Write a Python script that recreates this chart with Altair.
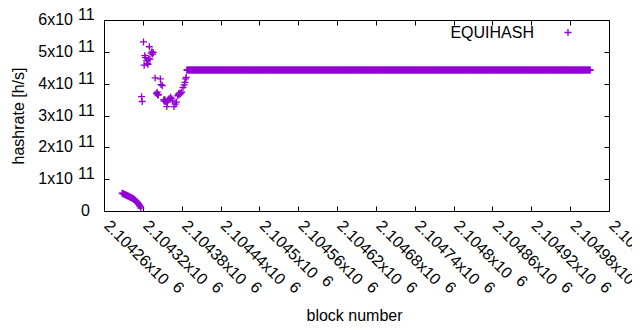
import altair as alt
import pandas as pd

# ---------------- data ----------------
# dense low cluster: consecutive blocks starting at cluster_start (values in h/s)
cluster_start = 2104288
cluster_values = [5.6e10, 5.5e10, 5.4e10, 5.3e10, 5.2e10, 5.1e10, 5.0e10, 4.9e10,
                  4.8e10, 4.7e10, 4.6e10, 4.5e10, 4.4e10, 4.3e10, 4.2e10, 4.1e10,
                  4.0e10, 3.9e10, 3.7e10, 3.6e10, 3.4e10, 3.2e10, 3.0e10, 2.8e10,
                  2.6e10, 2.3e10, 2.0e10, 1.7e10, 1.3e10, 0.9e10]

# scattered points after the jump
scatter_blocks = [2104318, 2104319, 2104321, 2104322, 2104323, 2104324, 2104326, 2104327,
                  2104328, 2104329, 2104330, 2104331, 2104333, 2104334, 2104335, 2104336,
                  2104339, 2104341, 2104342, 2104343, 2104344, 2104347, 2104348, 2104350,
                  2104352, 2104353, 2104354, 2104355, 2104357, 2104358, 2104359, 2104360,
                  2104362, 2104363, 2104365, 2104366, 2104368, 2104370, 2104372, 2104374,
                  2104375, 2104376, 2104377, 2104378, 2104380, 2104382, 2104384, 2104385,
                  2104386, 2104387]
scatter_values = [3.59e11, 3.44e11, 5.31e11, 4.58e11, 4.88e11, 4.82e11, 4.72e11, 4.63e11,
                  4.61e11, 4.78e11, 5.16e11, 4.77e11, 4.96e11, 5.00e11, 4.93e11, 4.98e11,
                  4.18e11, 3.69e11, 3.73e11, 3.64e11, 3.66e11, 4.15e11, 3.97e11, 3.94e11,
                  3.49e11, 3.45e11, 3.50e11, 3.44e11, 3.28e11, 3.42e11, 3.48e11, 3.52e11,
                  3.54e11, 3.57e11, 3.52e11, 3.46e11, 3.28e11, 3.36e11, 3.42e11, 3.62e11,
                  3.68e11, 3.66e11, 3.71e11, 3.68e11, 3.73e11, 3.88e11, 3.96e11, 4.04e11,
                  4.15e11, 4.20e11]

# long flat run (every block has the same value)
flat_first_block = 2104388
flat_last_block = 2105011
flat_value = 4.43e11

x_ticks = [2104260, 2104320, 2104380, 2104440, 2104500, 2104560, 2104620,
           2104680, 2104740, 2104800, 2104860, 2104920, 2104980, 2105040]
x_tick_labels = ["2.10426x10", "2.10432x10", "2.10438x10", "2.10444x10", "2.1045x10",
                 "2.10456x10", "2.10462x10", "2.10468x10", "2.10474x10", "2.1048x10",
                 "2.10486x10", "2.10492x10", "2.10498x10", "2.10504x10"]
x_tick_exponent = "6"
y_ticks = [0, 1e11, 2e11, 3e11, 4e11, 5e11, 6e11]
y_tick_labels = ["0", "1x10", "2x10", "3x10", "4x10", "5x10", "6x10"]
y_tick_exponent = "11"
series_name = "EQUIHASH"

# ---------------- build tables ----------------
blocks = (list(range(cluster_start, cluster_start + len(cluster_values)))
          + scatter_blocks
          + list(range(flat_first_block, flat_last_block + 1)))
values = (cluster_values + scatter_values
          + [flat_value] * (flat_last_block - flat_first_block + 1))
df = pd.DataFrame({"block": blocks, "hashrate": values})

W, H = 505, 191
FONT = "Liberation Sans"
FS = 16
COLOR = "#9400D3"
PLUS = "M-1,0H1M0,-1V1"
SW = 1.3

# approximate text advance widths (Arial metrics) to place the exponent after each label
adv = {c: 0.556 for c in "0123456789"}
adv.update({".": 0.278, "x": 0.5})
xlab = pd.DataFrame({
    "block": x_ticks,
    "main": x_tick_labels,
    "sup": [x_tick_exponent] * len(x_ticks),
})
xlab["sdx"] = [sum(adv[c] for c in s) * FS + 8 for s in x_tick_labels]

ylab = pd.DataFrame({"value": y_ticks, "main": y_tick_labels})
ylab_nz = ylab[ylab["value"] > 0].copy()
ylab_nz["sup"] = y_tick_exponent
ylab_z = ylab[ylab["value"] == 0]

xscale = alt.Scale(domain=[x_ticks[0], x_ticks[-1]], nice=False, zero=False)
yscale = alt.Scale(domain=[y_ticks[0], y_ticks[-1]], nice=False, zero=True)

points = alt.Chart(df).mark_point(
    shape=PLUS, filled=False, size=49, strokeWidth=SW, color=COLOR, opacity=1
).encode(
    x=alt.X("block:Q", scale=xscale, axis=alt.Axis(
        orient="bottom", labels=False, ticks=False, domain=False, grid=False,
        title="block number", titleX=250, titleY=104, titleAngle=0,
        titleBaseline="middle", titleAlign="center", titleFont=FONT,
        titleFontSize=FS, titleFontWeight="normal", titleColor="black")),
    y=alt.Y("hashrate:Q", scale=yscale, axis=alt.Axis(
        orient="left", labels=False, ticks=False, domain=False, grid=False,
        title="hashrate [h/s]", titleX=-86, titleY=H / 2, titleAngle=-90,
        titleBaseline="middle", titleAlign="center", titleFont=FONT,
        titleFontSize=FS, titleFontWeight="normal", titleColor="black")),
)

tick_df = pd.DataFrame({"block": [x_ticks[0]], "hashrate": [0.0]})


def tick_layer(xorient, yorient):
    return alt.Chart(tick_df).mark_point(opacity=0).encode(
        x=alt.X("block:Q", scale=xscale, axis=alt.Axis(
            orient=xorient, offset=-H, values=x_ticks, labels=False, domain=False,
            grid=False, ticks=True, tickSize=5, tickColor="black", tickWidth=1,
            title=None)),
        y=alt.Y("hashrate:Q", scale=yscale, axis=alt.Axis(
            orient=yorient, offset=-W, values=y_ticks, labels=False, domain=False,
            grid=False, ticks=True, tickSize=5, tickColor="black", tickWidth=1,
            title=None)),
    )


ticks_a = tick_layer("top", "right")     # inward ticks on bottom & left edges
ticks_b = tick_layer("bottom", "left")   # inward ticks on top & right edges

ytext = alt.Chart(ylab_nz).mark_text(
    align="right", baseline="middle", font=FONT, fontSize=FS, color="black"
).encode(x=alt.value(-31), y=alt.Y("value:Q", scale=yscale, axis=None), text="main:N")
ysup = alt.Chart(ylab_nz).mark_text(
    align="left", baseline="middle", font=FONT, fontSize=FS, color="black", dy=-5
).encode(x=alt.value(-26), y=alt.Y("value:Q", scale=yscale, axis=None), text="sup:N")
yzero = alt.Chart(ylab_z).mark_text(
    align="right", baseline="middle", font=FONT, fontSize=FS, color="black"
).encode(x=alt.value(-14), y=alt.Y("value:Q", scale=yscale, axis=None), text="main:N")

xtext = alt.Chart(xlab).mark_text(
    align="left", baseline="middle", angle=45, font=FONT, fontSize=FS, color="black",
    dy=-4
).encode(x=alt.X("block:Q", scale=xscale, axis=None), y=alt.value(H + 15), text="main:N")
xsup = alt.Chart(xlab).mark_text(
    align="left", baseline="middle", angle=45, font=FONT, fontSize=FS, color="black",
    dx=alt.expr("datum.sdx"), dy=-9
).encode(x=alt.X("block:Q", scale=xscale, axis=None), y=alt.value(H + 15), text="sup:N")

leg_df = pd.DataFrame({"name": [series_name]})
leg_text = alt.Chart(leg_df).mark_text(
    align="right", baseline="middle", font=FONT, fontSize=FS, color="black"
).encode(x=alt.value(430), y=alt.value(12.5), text="name:N")
leg_sym = alt.Chart(leg_df).mark_point(
    shape=PLUS, filled=False, size=49, strokeWidth=SW, color=COLOR, opacity=1
).encode(x=alt.value(464), y=alt.value(12.5))

chart = alt.layer(
    points, ticks_a, ticks_b, ytext, ysup, yzero, xtext, xsup, leg_text, leg_sym
).resolve_axis(x="independent", y="independent").properties(
    width=W, height=H,
    autosize=alt.AutoSizeParams(type="none"),
    padding={"left": 96, "top": 12, "right": 23, "bottom": 111},
    background="white",
).configure_view(stroke="black", strokeWidth=1)

chart.save("out.html", embed_options={"renderer": "svg", "actions": False})
